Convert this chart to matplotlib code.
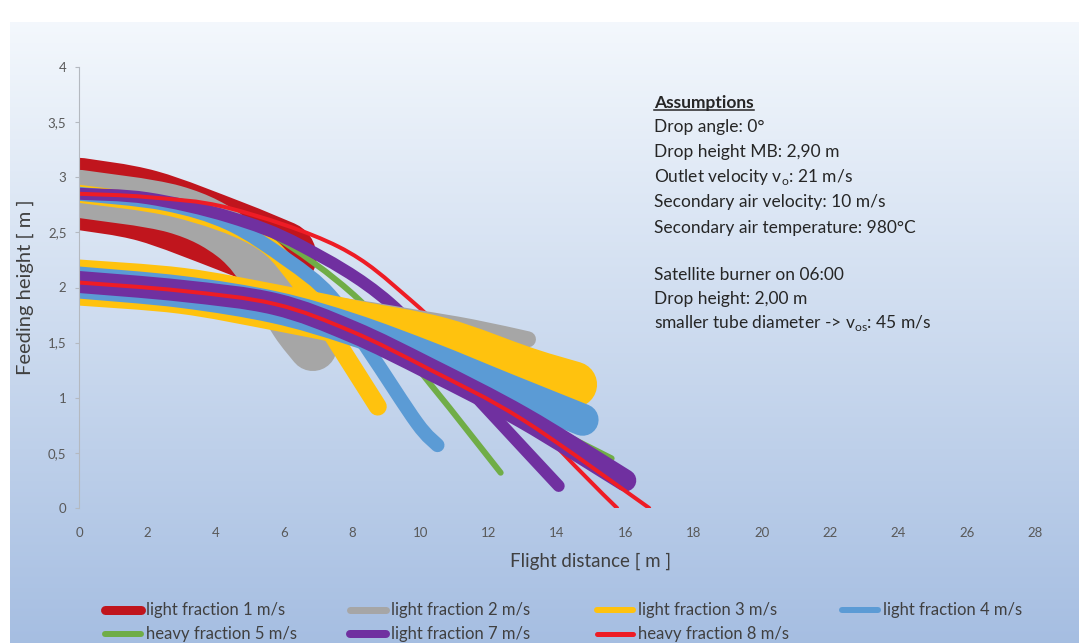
import numpy as np
import matplotlib.pyplot as plt
from matplotlib.lines import Line2D
from matplotlib.path import Path
from matplotlib.patches import PathPatch

W, H = 1079, 643
DPI = 100

series = ["light fraction 1 m/s", "light fraction 2 m/s", "light fraction 3 m/s",
          "light fraction 4 m/s", "heavy fraction 5 m/s", "light fraction 7 m/s",
          "heavy fraction 8 m/s"]
colors = ["#c0151d", "#a6a6a6", "#ffc20e", "#5b9bd5", "#70ad47", "#7030a0", "#ee1c25"]

# main burner trajectories (drop height 2,90 m), one per series
mb_x = [[0, 2, 4.4, 5.9],
        [0, 2.8, 4.5, 5.6, 6.3, 6.85],
        [0, 2.8, 5.15, 6.3, 7.4, 8.75],
        [0, 2.5, 4.4, 6.1, 7.35, 8.5, 9.9, 10.5],
        [0, 2.5, 4, 5.6, 8.2, 10.3, 12.35],
        [0, 2, 4.4, 6.5, 9.1, 11.8, 14.05],
        [0, 2, 4.4, 7.6, 9.7, 12, 14.5, 15.76]]
mb_y = [[2.85, 2.74, 2.47, 2.28],
        [2.85, 2.71, 2.45, 2.05, 1.68, 1.46],
        [2.85, 2.72, 2.46, 2.12, 1.58, 0.92],
        [2.85, 2.76, 2.58, 2.25, 1.93, 1.42, 0.77, 0.57],
        [2.85, 2.78, 2.68, 2.49, 1.89, 1.12, 0.32],
        [2.85, 2.81, 2.64, 2.38, 1.86, 0.95, 0.2],
        [2.85, 2.82, 2.72, 2.37, 1.89, 1.2, 0.39, 0.0]]

# satellite burner trajectories (drop height 2,00 m)
sat_x = [[],
         [0, 5, 8, 9.8, 11.5, 13.15],
         [0, 3, 5.74, 8, 10.6, 13.1, 14.5],
         [0, 3, 5.74, 8, 10.28, 12.5, 14.75],
         [0, 5.74, 8, 10.3, 13, 15.6],
         [0, 3, 5.74, 8, 10.28, 13, 16.0],
         [0, 3, 5.74, 8, 10.28, 13, 16.7]]
sat_y = [[],
         [2.045, 1.93, 1.82, 1.73, 1.64, 1.53],
         [2.045, 1.97, 1.82, 1.68, 1.52, 1.25, 1.12],
         [2.045, 1.96, 1.82, 1.62, 1.36, 1.08, 0.8],
         [2.045, 1.82, 1.58, 1.22, 0.85, 0.45],
         [2.05, 1.97, 1.85, 1.6, 1.26, 0.82, 0.25],
         [2.045, 1.97, 1.85, 1.6, 1.255, 0.8, 0.0]]

x_ticks = np.arange(0, 29, 2)
y_ticks = [0, 0.5, 1, 1.5, 2, 2.5, 3, 3.5, 4]
y_labels = ["0", "0,5", "1", "1,5", "2", "2,5", "3", "3,5", "4"]

notes = ["Drop angle: 0°",
         "Drop height MB: 2,90 m",
         r"Outlet velocity v$_\mathregular{o}$: 21 m/s",
         "Secondary air velocity: 10 m/s",
         "Secondary air temperature: 980°C",
         "",
         "Satellite burner on 06:00",
         "Drop height: 2,00 m",
         r"smaller tube diameter -> v$_\mathregular{os}$: 45 m/s"]

plt.rcParams['font.family'] = ['Lato', 'DejaVu Sans']

px = 0.72  # points per pixel at 100 dpi
mb_lw = [72, 48, 18, 14, 6, 12, 4]
sat_lw = [0, 16, 46, 32, 6, 22, 4]
leg_lw = [9, 7, 6, 6, 6, 8, 5]


def smooth_line(ax, xs, ys, color, lw):
    # smoothed line through the points, like a spreadsheet "smooth line"
    p = np.column_stack([xs, ys]).astype(float)
    ext = np.vstack([p[0], p, p[-1]])
    verts = [p[0]]
    codes = [Path.MOVETO]
    for i in range(len(p) - 1):
        c1 = ext[i + 1] + (ext[i + 2] - ext[i]) / 6
        c2 = ext[i + 2] - (ext[i + 3] - ext[i + 1]) / 6
        verts += [c1, c2, p[i + 1]]
        codes += [Path.CURVE4] * 3
    ax.add_patch(PathPatch(Path(verts, codes), fill=False, edgecolor=color,
                           lw=lw, capstyle="round", joinstyle="round"))


fig = plt.figure(figsize=(W / DPI, H / DPI), dpi=DPI, facecolor="white")

# slide background gradient
bg = fig.add_axes([0, 0, 1, 1], zorder=-5)
bg.set_xlim(0, W); bg.set_ylim(H, 0); bg.axis("off")
top = np.array([0.955, 0.972, 0.990])
bot = np.array([0.650, 0.745, 0.885])
t = np.linspace(0, 1, 256)[:, None]
grad = (top + (bot - top) * t)[:, None, :]
bg.imshow(grad, extent=[10, W, H, 22], aspect="auto", interpolation="bilinear")

ax = fig.add_axes([79 / W, 1 - 508 / H, (1035 - 79) / W, (508 - 67) / H])
ax.set_facecolor("none")
ax.set_xlim(0, 28)
ax.set_ylim(0, 4)

for i in range(len(series)):
    smooth_line(ax, mb_x[i], mb_y[i], colors[i], mb_lw[i] * px)
for i in range(len(series)):
    if sat_x[i]:
        smooth_line(ax, sat_x[i], sat_y[i], colors[i], sat_lw[i] * px)

for s in ["top", "right", "bottom"]:
    ax.spines[s].set_visible(False)
ax.spines["left"].set_color("#b4b9c0")
ax.spines["left"].set_linewidth(0.8)

ax.set_xticks(x_ticks)
ax.set_yticks(y_ticks)
ax.set_yticklabels(y_labels)
ax.tick_params(axis="x", length=0, pad=14, labelsize=9.5, labelcolor="#595959")
ax.tick_params(axis="y", length=3, color="#b4b9c0", pad=6, labelsize=9.5,
               labelcolor="#595959")

ax.set_ylabel("Feeding height [ m ]", fontsize=14.5, color="#404040", labelpad=10)
fig.text(591 / W, 1 - 561 / H, "Flight distance [ m ]", fontsize=13.5,
         color="#404040", ha="center", va="center")

# assumptions text
tx = 654 / W
head = fig.text(tx, 1 - 103 / H, "Assumptions", fontsize=12.5, weight="bold",
                color="#262626", va="center")
rows_y = [127, 152, 177, 202, 228, 0, 275, 299, 323]
for s, yy in zip(notes, rows_y):
    if s:
        fig.text(tx, 1 - yy / H, s, fontsize=12.5, color="#262626", va="center")

fig.canvas.draw()
bb = head.get_window_extent()
fig.add_artist(Line2D([bb.x0, bb.x1], [bb.y0 + 1, bb.y0 + 1], color="#262626",
                      lw=1.1, transform=None))

# legend, laid out in two rows like the original
col_x = [105, 350, 597, 842]
row_y = [610, 634]
for i, name in enumerate(series):
    r, c = divmod(i, 4)
    x0 = col_x[c]
    y0 = 1 - row_y[r] / H
    fig.add_artist(Line2D([x0 / W, (x0 + 36) / W], [y0, y0], color=colors[i],
                          lw=leg_lw[i] * px, solid_capstyle="round",
                          transform=fig.transFigure))
    fig.text((x0 + 41) / W, y0, name, fontsize=12, color="#404040", va="center")

fig.savefig("out.png", dpi=DPI, facecolor="white")
